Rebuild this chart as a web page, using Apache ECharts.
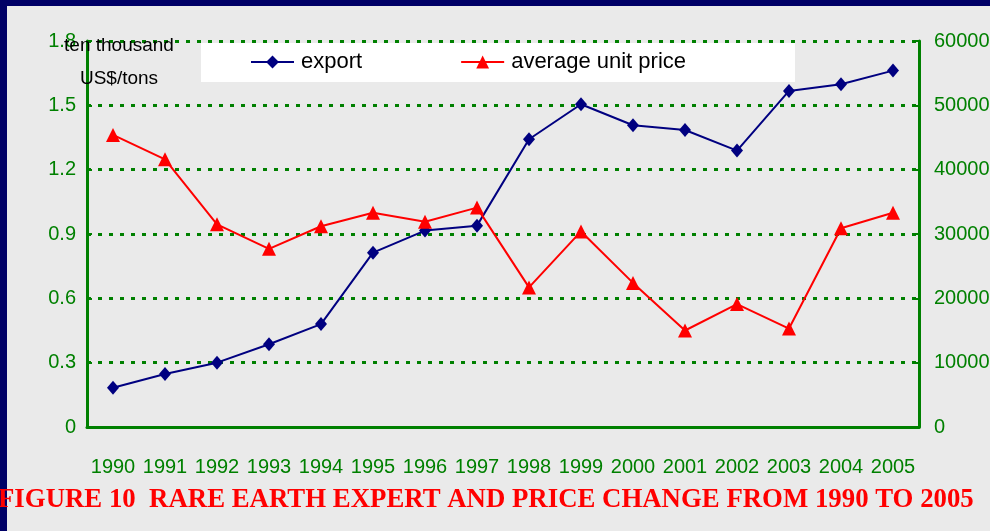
<!DOCTYPE html>
<html>
<head>
<meta charset="utf-8">
<script src="https://cdn.jsdelivr.net/npm/echarts@6/dist/echarts.min.js"></script>
<style>
html,body{margin:0;padding:0;background:#eaeaea;}
#chart{width:990px;height:531px;}
</style>
</head>
<body>
<div id="chart"></div>
<script>
const years = ['1990','1991','1992','1993','1994','1995','1996','1997','1998','1999','2000','2001','2002','2003','2004','2005'];
const exportVals = [0.183, 0.247, 0.300, 0.386, 0.480, 0.813, 0.916, 0.939, 1.342, 1.505, 1.407, 1.385, 1.289, 1.567, 1.598, 1.662];
const priceVals = [45400, 41600, 31500, 27700, 31200, 33300, 31900, 34100, 21700, 30400, 22400, 15000, 19100, 15300, 30900, 33300];
const leftTicks = {min: 0, max: 1.8, interval: 0.3};
const rightTicks = {min: 0, max: 60000, interval: 10000};

const green = '#008000';
const chart = echarts.init(document.getElementById('chart'));
chart.setOption({
  backgroundColor: '#eaeaea',
  animation: false,
  title: {
    text: 'FIGURE 10  RARE EARTH EXPERT AND PRICE CHANGE FROM 1990 TO 2005',
    left: -2, top: 487, padding: 0, z: 10,
    textStyle: {color: '#ff0000', fontFamily: "'Liberation Serif', 'Times New Roman', serif", fontWeight: 'bold', fontSize: 26.8}
  },
  graphic: [
    {type: 'rect', z: 0, shape: {x: 0, y: 0, width: 990, height: 6}, style: {fill: '#000066'}},
    {type: 'rect', z: 0, shape: {x: 0, y: 0, width: 7, height: 531}, style: {fill: '#000066'}},
    {type: 'rect', z: 1, shape: {x: 201, y: 43, width: 594, height: 39}, style: {fill: '#ffffff'}},
    {type: 'text', z: 10, x: 119, y: 29, style: {text: 'ten thousand\nUS$/tons', textAlign: 'center', textVerticalAlign: 'top', fill: '#000', font: "19px 'Liberation Sans', Arial, sans-serif", lineHeight: 33}}
  ],
  legend: {
    left: 250, top: 51, padding: 0, itemGap: 98, itemWidth: 43, itemHeight: 16, z: 5,
    textStyle: {color: '#000', fontSize: 22, fontFamily: "'Liberation Sans', Arial, sans-serif", padding: [0,0,0,2]},
    data: ['export', 'average unit price']
  },
  grid: {left: 87, right: 71, top: 41, bottom: 104, outerBoundsMode: 'none', containLabel: false},
  xAxis: {
    type: 'category', data: years, boundaryGap: true,
    axisLine: {lineStyle: {color: green, width: 3}},
    axisTick: {inside: true, length: 6, lineStyle: {color: green, width: 2}},
    axisLabel: {color: green, fontSize: 20, margin: 30, interval: 0, fontFamily: "'Liberation Sans', Arial, sans-serif"},
    splitLine: {show: false}
  },
  yAxis: [
    {
      type: 'value', position: 'left', min: leftTicks.min, max: leftTicks.max, interval: leftTicks.interval,
      axisLine: {show: true, lineStyle: {color: green, width: 3}},
      axisTick: {show: true, inside: true, length: 5, lineStyle: {color: green, width: 2}},
      axisLabel: {color: green, fontSize: 20, margin: 11, fontFamily: "'Liberation Sans', Arial, sans-serif",
        formatter: v => (v === 0 ? '0' : v.toFixed(1))},
      splitLine: {show: true, lineStyle: {color: green, width: 3, type: [4, 7]}}
    },
    {
      type: 'value', position: 'right', min: rightTicks.min, max: rightTicks.max, interval: rightTicks.interval,
      axisLine: {show: true, lineStyle: {color: green, width: 3}},
      axisTick: {show: true, inside: true, length: 5, lineStyle: {color: green, width: 2}},
      axisLabel: {color: green, fontSize: 20, margin: 15, fontFamily: "'Liberation Sans', Arial, sans-serif",
        formatter: v => String(v)},
      splitLine: {show: false}
    }
  ],
  series: [
    {
      name: 'export', type: 'line', yAxisIndex: 0, data: exportVals, z: 4,
      symbol: 'diamond', symbolSize: [12, 14],
      lineStyle: {color: '#000080', width: 2}, itemStyle: {color: '#000080'}
    },
    {
      name: 'average unit price', type: 'line', yAxisIndex: 1, data: priceVals, z: 4,
      symbol: 'triangle', symbolSize: [14, 14],
      lineStyle: {color: '#ff0000', width: 2}, itemStyle: {color: '#ff0000'}
    }
  ]
});
</script>
</body>
</html>
